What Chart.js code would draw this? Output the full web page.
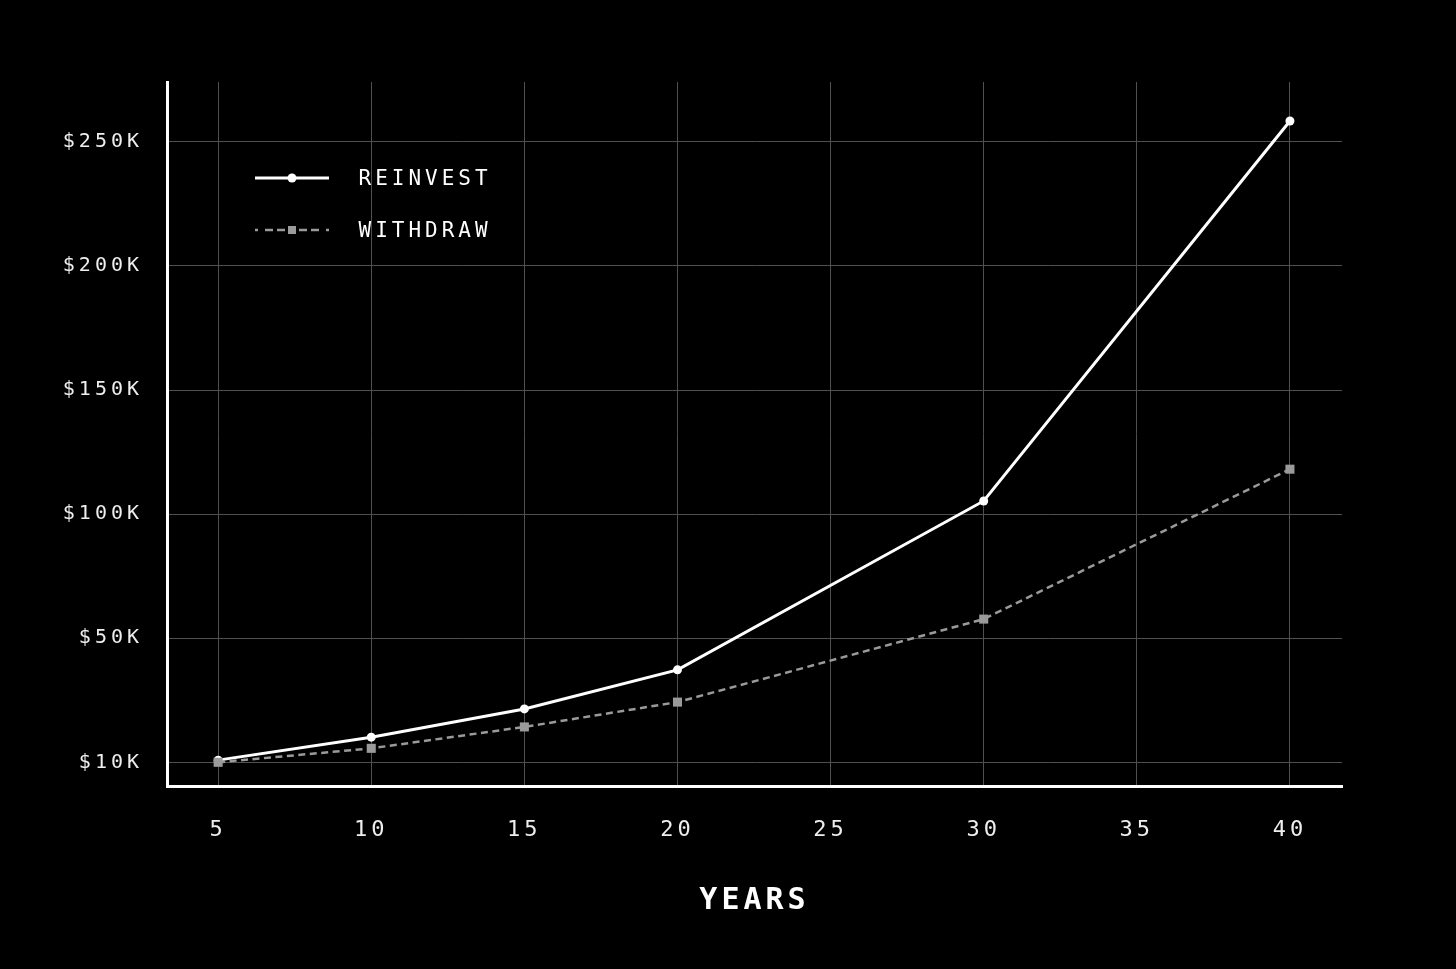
<!DOCTYPE html>
<html>
<head>
<meta charset="utf-8">
<script src="https://cdn.jsdelivr.net/npm/chart.js@4.4.1/dist/chart.umd.min.js"></script>
<style>
  html, body { margin: 0; padding: 0; background: #000; }
  canvas { display: block; }
</style>
</head>
<body>
<canvas id="c" width="1456" height="969"></canvas>
<script>
// ---- data (values in $K) ----
const years = [5, 10, 15, 20, 30, 40];
const reinvest = [10.7, 18.1, 27.2, 39.8, 105.3, 258.4];
const withdraw = [10.0, 14.5, 21.4, 29.4, 57.7, 118.1];
const seriesNames = ['REINVEST', 'WITHDRAW'];
const xTickValues = [5, 10, 15, 20, 25, 30, 35, 40];
const yTickValues = [10, 50, 100, 150, 200, 250];
const yTickLabels = ['$10K', '$50K', '$100K', '$150K', '$200K', '$250K'];
const xTitle = 'YEARS';

const FONT = "'DejaVu Sans Mono', 'Liberation Mono', monospace";
const LETTER_SPACING = '4px';

// ---- axis whose labelled ticks are evenly spaced (piecewise linear between ticks) ----
function toU(v) {
  const t = yTickValues, n = t.length;
  let i = 0;
  if (v <= t[0]) i = 0;
  else if (v >= t[n - 1]) i = n - 2;
  else { while (v > t[i + 1]) i++; }
  return i + (v - t[i]) / (t[i + 1] - t[i]);
}
function fromU(u) {
  const t = yTickValues, n = t.length;
  let i = Math.max(0, Math.min(n - 2, Math.floor(u)));
  return t[i] + (u - i) * (t[i + 1] - t[i]);
}
class PiecewiseScale extends Chart.LinearScale {
  getPixelForValue(value) {
    const u0 = toU(this.min), u1 = toU(this.max);
    return this.getPixelForDecimal((toU(value) - u0) / (u1 - u0));
  }
  getValueForPixel(pixel) {
    const u0 = toU(this.min), u1 = toU(this.max);
    return fromU(u0 + this.getDecimalForPixel(pixel) * (u1 - u0));
  }
}
PiecewiseScale.id = 'piecewise';
PiecewiseScale.defaults = {};
Chart.register(PiecewiseScale);

// ---- legend glyphs ----
function makeIcon(kind) {
  const c = document.createElement('canvas');
  c.width = 150; c.height = 20;
  const g = c.getContext('2d');
  const cy = 8;
  if (kind === 0) {
    g.strokeStyle = '#ffffff'; g.lineWidth = 3;
    g.beginPath(); g.moveTo(57, cy); g.lineTo(131, cy); g.stroke();
    g.fillStyle = '#ffffff';
    g.beginPath(); g.arc(94, cy, 4.5, 0, Math.PI * 2); g.fill();
  } else {
    g.strokeStyle = '#9a9a9a'; g.lineWidth = 2.5;
    const segs = [[57, 60], [67, 75], [79, 87], [101, 109], [113, 121], [128, 131]];
    segs.forEach(s => { g.beginPath(); g.moveTo(s[0], cy); g.lineTo(s[1], cy); g.stroke(); });
    g.fillStyle = '#9a9a9a';
    g.fillRect(90, cy - 4, 8, 8);
  }
  return c;
}
const legendIcons = [makeIcon(0), makeIcon(1)];

const spacingPlugin = {
  id: 'letterSpacing',
  beforeInit(chart) { chart.ctx.letterSpacing = LETTER_SPACING; },
  beforeUpdate(chart) { chart.ctx.letterSpacing = LETTER_SPACING; },
  beforeLayout(chart) { chart.ctx.letterSpacing = LETTER_SPACING; },
  beforeDraw(chart) { chart.ctx.letterSpacing = LETTER_SPACING; }
};

new Chart(document.getElementById('c'), {
  type: 'line',
  data: {
    datasets: [
      {
        label: seriesNames[0],
        data: years.map((x, i) => ({ x: x, y: reinvest[i] })),
        borderColor: '#ffffff',
        backgroundColor: '#ffffff',
        borderWidth: 3,
        tension: 0,
        pointStyle: 'circle',
        pointRadius: 4.5,
        pointBackgroundColor: '#ffffff',
        pointBorderWidth: 0,
        order: 2
      },
      {
        label: seriesNames[1],
        data: years.map((x, i) => ({ x: x, y: withdraw[i] })),
        borderColor: '#9a9a9a',
        backgroundColor: '#9a9a9a',
        borderWidth: 2.5,
        borderDash: [7, 4.5],
        tension: 0,
        pointStyle: 'rect',
        pointRadius: 6.4,
        pointBackgroundColor: '#9a9a9a',
        pointBorderWidth: 0,
        order: 1
      }
    ]
  },
  options: {
    responsive: false,
    animation: false,
    devicePixelRatio: 1,
    layout: { padding: { left: 0, right: 114, top: 82, bottom: 0 } },
    plugins: {
      tooltip: { enabled: false },
      legend: {
        position: 'chartArea',
        align: 'start',
        title: { display: true, text: '', font: { size: 10 }, padding: { top: 126.5, bottom: 0 } },
        labels: {
          usePointStyle: true,
          pointStyleWidth: 150,
          padding: 31,
          color: '#ffffff',
          font: { family: FONT, size: 21 },
          generateLabels: (chart) => chart.data.datasets.map((ds, i) => ({
            text: ds.label,
            pointStyle: legendIcons[i],
            fillStyle: 'rgba(0,0,0,0)',
            strokeStyle: 'rgba(0,0,0,0)',
            lineWidth: 0,
            fontColor: '#ffffff',
            hidden: false,
            datasetIndex: i
          }))
        }
      }
    },
    scales: {
      x: {
        type: 'linear',
        min: 3.33,
        max: 41.7,
        bounds: 'data',
        afterBuildTicks: (s) => { s.ticks = xTickValues.map(v => ({ value: v })); },
        afterFit: (s) => { s.height = 183; },
        grid: { color: '#505050', lineWidth: 1, drawTicks: false },
        border: { color: '#ffffff', width: 3 },
        ticks: {
          color: '#eeeeee',
          font: { family: FONT, size: 22 },
          padding: 31,
          autoSkip: false,
          maxRotation: 0,
          callback: (v) => String(v)
        },
        title: {
          display: true,
          text: xTitle,
          color: '#ffffff',
          font: { family: FONT, size: 30, weight: 'bold' },
          padding: { top: 0, bottom: 50 }
        }
      },
      y: {
        type: 'piecewise',
        min: 2.36,
        max: 274.1,
        bounds: 'data',
        afterBuildTicks: (s) => { s.ticks = yTickValues.map(v => ({ value: v })); },
        afterFit: (s) => { s.width = 167; },
        grid: { color: '#505050', lineWidth: 1, drawTicks: false },
        border: { color: '#ffffff', width: 3 },
        ticks: {
          color: '#eeeeee',
          font: { family: FONT, size: 20 },
          padding: 24,
          autoSkip: false,
          callback: (v) => yTickLabels[yTickValues.indexOf(v)]
        }
      }
    }
  },
  plugins: [spacingPlugin]
});
</script>
</body>
</html>
